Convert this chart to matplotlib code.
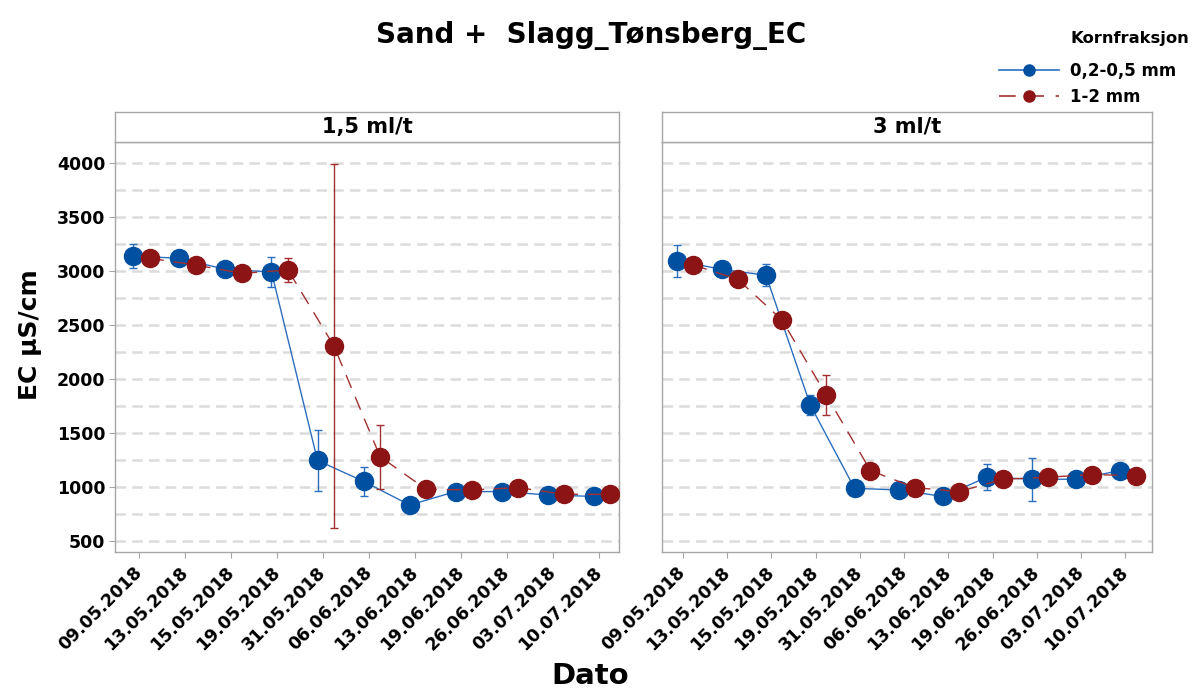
import matplotlib
matplotlib.use("Agg")
import matplotlib.pyplot as plt
from matplotlib.lines import Line2D
import numpy as np

plt.rcParams["font.family"] = ["DejaVu Sans"]
plt.rcParams["font.weight"] = "bold"

dates = ["09.05.2018", "13.05.2018", "15.05.2018", "19.05.2018", "31.05.2018",
         "06.06.2018", "13.06.2018", "19.06.2018", "26.06.2018", "03.07.2018",
         "10.07.2018"]
panels = ["1,5 ml/t", "3 ml/t"]
fractions = ["0,2-0,5 mm", "1-2 mm"]

# 1,5 ml/t
fine_15 = [3137, 3115, 3013, 2989, 1245, 1052, 833, 957, 957, 926, 912]
fine_15_err = [115, 40, 30, 142, 282, 136, 30, 30, 30, 30, 30]
coarse_15 = [3115, 3053, 2976, 3007, 2301, 1280, 978, 972, 994, 932, 932]
coarse_15_err = [40, 30, 30, 115, 1684, 295, 30, 30, 30, 30, 30]

# 3 ml/t
fine_3 = [3093, 3013, 2958, 1758, 987, 972, 912, 1092, 1071, 1071, 1151]
fine_3_err = [148, 40, 100, 90, 30, 30, 30, 116, 197, 30, 30]
coarse_3 = [3053, 2921, 2545, 1850, 1151, 994, 957, 1071, 1090, 1114, 1105]
coarse_3_err = [30, 30, 50, 185, 30, 30, 30, 30, 30, 30, 30]

series = [
    [(fine_15, fine_15_err), (coarse_15, coarse_15_err)],
    [(fine_3, fine_3_err), (coarse_3, coarse_3_err)],
]

W, H = 1196, 691
fig = plt.figure(figsize=(W / 100, H / 100), dpi=100)

marker_cols = ["#0050A2", "#8C1414"]
line_cols = ["#2B6FBF", "#A33030"]
line_styles = ["-", (0, (10, 7))]
offsets = [-0.12, 0.24]
frame_col = "#A6A6A6"

# panel geometry in pixels: left, right, xlim
boxes = [(115, 619, (-0.52, 10.43)), (662, 1152, (-0.47, 10.60))]
top, bottom = 141.7, 552

x = np.arange(len(dates))
for i, (l, r, xl) in enumerate(boxes):
    ax = fig.add_axes([l / W, 1 - bottom / H, (r - l) / W, (bottom - top) / H])
    for j, (vals, errs) in enumerate(series[i]):
        xs = x + offsets[j]
        ax.errorbar(xs, vals, yerr=errs, fmt="none", ecolor=line_cols[j],
                    elinewidth=1, capsize=3, capthick=1, zorder=2 + j)
        ax.plot(xs, vals, color=line_cols[j], lw=1, ls=line_styles[j],
                marker="o", ms=13, mfc=marker_cols[j], mec=marker_cols[j],
                zorder=2.5 + j)
    ax.set_xlim(*xl)
    ax.set_ylim(398, 4194)
    for v in np.arange(500, 4001, 250):
        ax.axhline(v, color="#DCDCDC", lw=1.8, ls=(0, (4.2, 2.5)), zorder=1)
    ax.set_yticks(np.arange(500, 4001, 500))
    ax.set_xticks(x)
    ax.set_xticklabels(dates, rotation=45, ha="right", va="center",
                       rotation_mode="anchor", fontsize=12.5, fontweight="bold")
    ax.tick_params(axis="x", length=4, color=frame_col, pad=9)
    if i == 0:
        ax.tick_params(axis="y", length=4, color=frame_col, labelsize=12.5, pad=3)
        for t in ax.get_yticklabels():
            t.set_fontweight("bold")
    else:
        ax.tick_params(axis="y", length=0, labelleft=False)
    for s in ax.spines.values():
        s.set_color(frame_col)
        s.set_linewidth(1)

    strip = fig.add_axes([l / W, 1 - top / H, (r - l) / W, 30 / H])
    strip.set_xticks([])
    strip.set_yticks([])
    for s in strip.spines.values():
        s.set_color(frame_col)
        s.set_linewidth(1)
    strip.text(0.5, 0.5, panels[i], ha="center", va="center", fontsize=15,
               fontweight="bold", transform=strip.transAxes)

fig.text(0.494, 1 - 35 / H, "Sand +  Slagg_Tønsberg_EC", ha="center",
         va="center", fontsize=20, fontweight="bold")
fig.text(590 / W, 1 - 676 / H, "Dato", ha="center", va="center",
         fontsize=21, fontweight="bold")
fig.text(30 / W, 1 - 335 / H, "EC µS/cm", ha="center", va="center",
         rotation=90, fontsize=18, fontweight="bold")

# legend
handles = [
    Line2D([], [], color=line_cols[k], lw=1.2, ls=line_styles[k], marker="o",
           ms=8, mfc=marker_cols[k], mec=marker_cols[k])
    for k in range(2)
]
fig.text(1071 / W, 1 - 39 / H, "Kornfraksjon", ha="left", va="center",
         fontsize=11.8, fontweight="bold")
leg = fig.legend(handles, fractions, loc="upper left",
                 bbox_to_anchor=(992 / W, 1 - 55 / H), frameon=False,
                 handlelength=3.6, handletextpad=0.7, labelspacing=0.5,
                 prop={"size": 12, "weight": "bold"}, borderaxespad=0)

fig.savefig("out.png", dpi=100, facecolor="white")
